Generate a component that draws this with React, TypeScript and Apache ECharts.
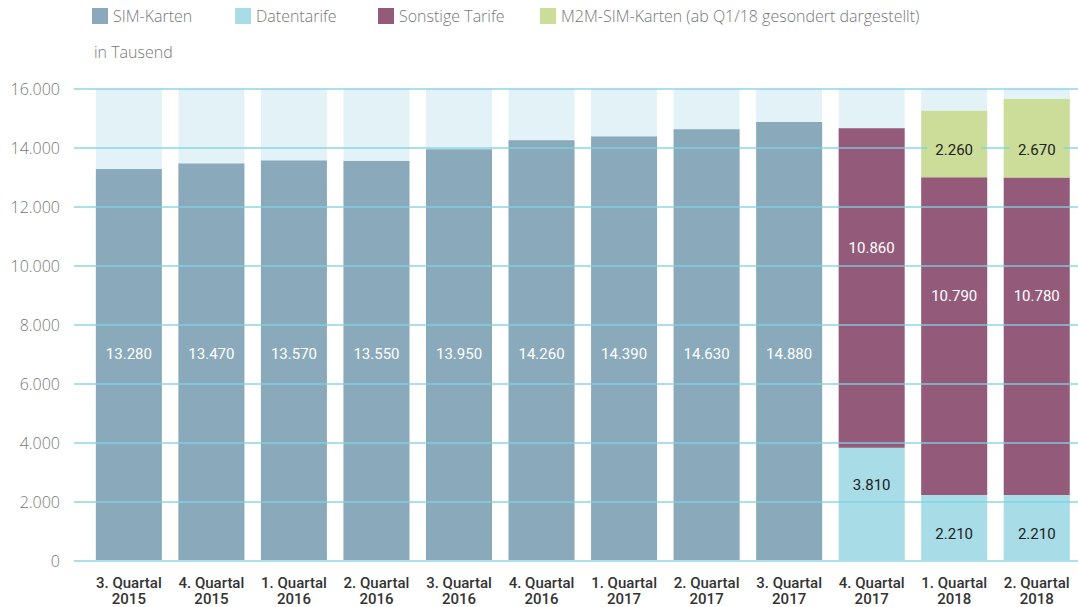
import { useEffect, useRef } from 'react';
import * as echarts from 'echarts';

// Quartale (Kategorien der x-Achse)
const categories = [
  '3. Quartal\n2015',
  '4. Quartal\n2015',
  '1. Quartal\n2016',
  '2. Quartal\n2016',
  '3. Quartal\n2016',
  '4. Quartal\n2016',
  '1. Quartal\n2017',
  '2. Quartal\n2017',
  '3. Quartal\n2017',
  '4. Quartal\n2017',
  '1. Quartal\n2018',
  '2. Quartal\n2018',
];

// Werte in Tausend
const simKarten = [13280, 13470, 13570, 13550, 13950, 14260, 14390, 14630, 14880, null, null, null];
const datentarife = [null, null, null, null, null, null, null, null, null, 3810, 2210, 2210];
const sonstigeTarife = [null, null, null, null, null, null, null, null, null, 10860, 10790, 10780];
const m2mSimKarten = [null, null, null, null, null, null, null, null, null, null, 2260, 2670];

// y-Achse
const yMin = 0;
const yMax = 16000;
const yStep = 2000;

const SERIES_NAMES = {
  sim: 'SIM-Karten',
  daten: 'Datentarife',
  sonstige: 'Sonstige Tarife',
  m2m: 'M2M-SIM-Karten (ab Q1/18 gesondert dargestellt)',
};

const COLORS = {
  sim: '#8aaabb',
  daten: '#a8dce6',
  sonstige: '#935a7a',
  m2m: '#cbdd98',
  track: '#e3f2f7',
  grid: '#7fd3e1',
};

// Legendeneinträge: Reihenfolge und linke Kante
const legendOrder = [SERIES_NAMES.sim, SERIES_NAMES.daten, SERIES_NAMES.sonstige, SERIES_NAMES.m2m];
const legendLeft = [92, 235, 378, 540];

// vertikale Feinjustierung der Datentarif-Beschriftungen (px)
const datenLabelShift = [0, 0, 0, 0, 0, 0, 0, 0, 0, -19, 7, 7];

const LABEL_FONT = "Roboto, 'Noto Sans', sans-serif";
const LIGHT = "'Open Sans', Roboto, sans-serif";

const fmt = (v: number | string) =>
  String(v).replace(/\B(?=(\d{3})+(?!\d))/g, '.');

const valueOf = (p: any) => {
  const v = p.value && typeof p.value === 'object' ? p.value.value : p.value;
  return v == null ? '' : fmt(v);
};

export default function App() {
  const ref = useRef<HTMLDivElement>(null);

  useEffect(() => {
    document.body.style.margin = '0';
    const chart = echarts.init(ref.current!, null, { renderer: 'svg' });

    const labelBase = {
      show: true,
      fontFamily: LABEL_FONT,
      fontSize: 15,
      formatter: valueOf,
    };

    const hidden = 'rgba(0,0,0,0)';

    const barCommon = {
      type: 'bar' as const,
      xAxisIndex: 0,
      yAxisIndex: 0,
      barWidth: 66,
      barGap: '-100%',
    };

    const option: any = {
      animation: false,
      legend: legendOrder.map((name, i) => ({
        data: [name],
        left: legendLeft[i],
        top: 8,
        padding: 0,
        icon: 'rect',
        itemWidth: 16,
        itemHeight: 16,
        selectedMode: false,
        textStyle: { fontFamily: LIGHT, fontWeight: 300, fontSize: 16, color: '#777' },
      })),
      graphic: [
        {
          type: 'text',
          left: 94,
          top: 44,
          style: {
            text: 'in Tausend',
            fontFamily: LIGHT,
            fontWeight: 300,
            fontSize: 16,
            fill: '#777',
          },
        },
      ],
      grid: [
        // Balken
        { left: 87.6, right: -3.2, top: 89, bottom: 46 },
        // Gitternetz und Skala
        { left: 74, right: 0, top: 89, bottom: 46 },
      ],
      xAxis: [
        {
          type: 'category',
          gridIndex: 0,
          data: categories,
          axisLine: { show: false },
          axisTick: { show: false },
          axisLabel: {
            interval: 0,
            margin: 15,
            fontFamily: LABEL_FONT,
            fontWeight: 500,
            fontSize: 15,
            lineHeight: 16,
            color: '#333',
          },
        },
        { type: 'value', gridIndex: 1, show: false, min: 0, max: 1 },
      ],
      yAxis: [
        { type: 'value', gridIndex: 0, show: false, min: yMin, max: yMax, interval: yStep },
        {
          type: 'value',
          gridIndex: 1,
          min: yMin,
          max: yMax,
          interval: yStep,
          z: 3,
          axisLine: { show: false },
          axisTick: { show: false },
          axisLabel: {
            margin: 14,
            fontFamily: LIGHT,
            fontWeight: 300,
            fontSize: 16,
            color: '#777',
            formatter: (v: number) => fmt(v),
          },
          splitLine: { lineStyle: { color: COLORS.grid, width: 1.5, opacity: 0.9 } },
        },
      ],
      series: [
        // Balken
        {
          ...barCommon,
          name: SERIES_NAMES.sim,
          stack: 'bars',
          data: simKarten,
          itemStyle: { color: COLORS.sim },
          showBackground: true,
          backgroundStyle: { color: COLORS.track },
          z: 2,
        },
        {
          ...barCommon,
          name: SERIES_NAMES.daten,
          stack: 'bars',
          data: datentarife,
          itemStyle: { color: COLORS.daten },
          z: 2,
        },
        {
          ...barCommon,
          name: SERIES_NAMES.sonstige,
          stack: 'bars',
          data: sonstigeTarife,
          itemStyle: { color: COLORS.sonstige },
          z: 2,
        },
        {
          ...barCommon,
          name: SERIES_NAMES.m2m,
          stack: 'bars',
          data: m2mSimKarten,
          itemStyle: { color: COLORS.m2m },
          z: 2,
        },
        // Beschriftungen oberhalb des Gitternetzes
        {
          ...barCommon,
          name: 'sim-beschriftung',
          stack: 'labels',
          data: simKarten,
          silent: true,
          itemStyle: { color: hidden },
          label: { ...labelBase, position: 'insideBottom', distance: 199, color: '#fff' },
          z: 4,
        },
        {
          ...barCommon,
          name: 'daten-beschriftung',
          stack: 'labels',
          data: datentarife.map((v, i) =>
            v == null ? null : { value: v, label: { offset: [0, datenLabelShift[i]] } }
          ),
          silent: true,
          itemStyle: { color: hidden },
          label: { ...labelBase, position: 'inside', color: '#222' },
          z: 4,
        },
        {
          ...barCommon,
          name: 'sonstige-beschriftung',
          stack: 'labels',
          data: sonstigeTarife,
          silent: true,
          itemStyle: { color: hidden },
          label: { ...labelBase, position: 'inside', offset: [0, -40], color: '#fff' },
          z: 4,
        },
        {
          ...barCommon,
          name: 'm2m-beschriftung',
          stack: 'labels',
          data: m2mSimKarten,
          silent: true,
          itemStyle: { color: hidden },
          label: {
            ...labelBase,
            position: 'insideBottom',
            distance: 17,
            color: '#222',
            backgroundColor: COLORS.m2m,
            padding: [3, 8],
          },
          z: 4,
        },
      ],
    };

    chart.setOption(option);
    return () => chart.dispose();
  }, []);

  return <div ref={ref} style={{ width: 1078, height: 607 }} />;
}
